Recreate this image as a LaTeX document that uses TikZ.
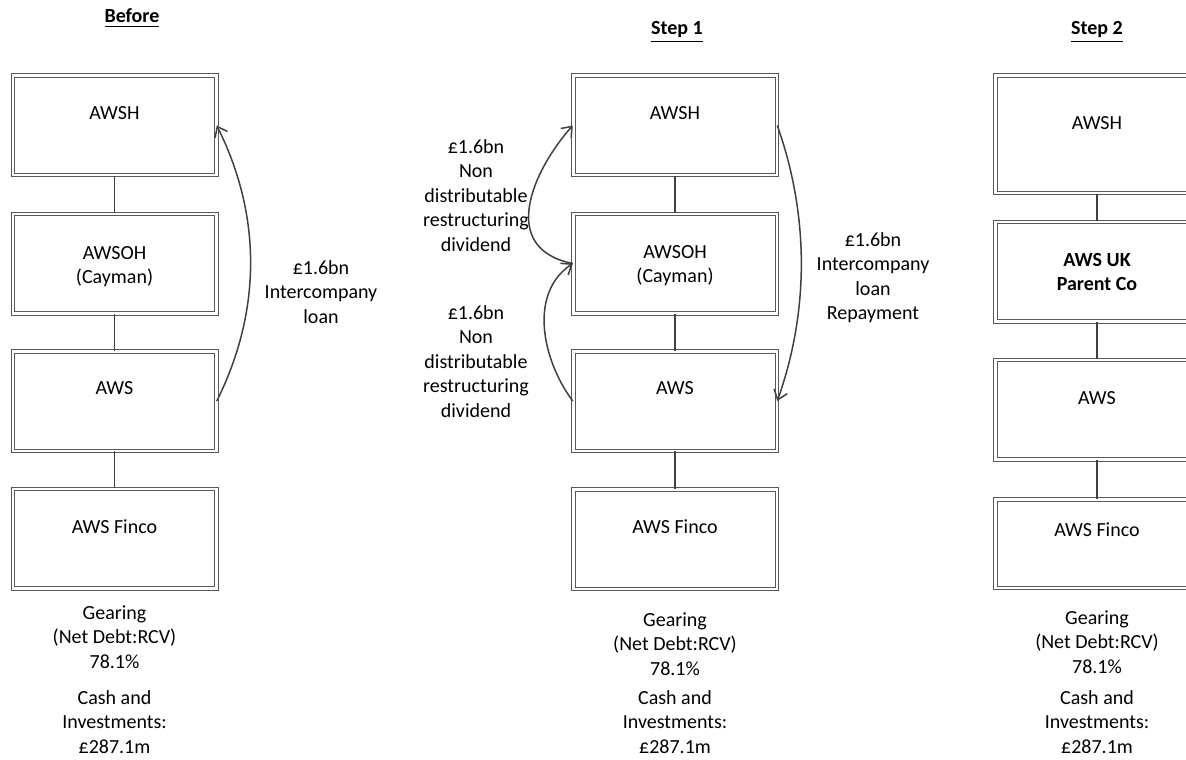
\documentclass[tikz,border=0pt]{standalone}
\usepackage{fontspec}
\setmainfont{Carlito}
\usetikzlibrary{arrows.meta, positioning}
\definecolor{colBox}{RGB}{89, 89, 89}
\definecolor{colLine}{RGB}{64, 64, 64}

\begin{document}
\begin{tikzpicture}[x=0.5pt, y=-0.5pt,
    every node/.style={font=\fontsize{10}{12.2}\selectfont, inner sep=0pt},
    firm/.style={draw=colBox, line width=0.5pt, double=white, double distance=1.25pt,
        minimum width=101.75pt, minimum height=49.75pt},
    firmtext/.style={anchor=base, align=center},
    link/.style={draw=colLine, line width=0.6pt},
    flow/.style={draw=colLine, line width=0.75pt, -{Straight Barb[length=4.5pt,width=7pt]}}]
    \useasboundingbox (0,0) rectangle (1186,759);
    \clip (0,0) rectangle (1186,759);

    % Before
    \node[firmtext] (hBefore) at (132,23) {\underline{\textbf{Before}}};
    \node[firm] (b1) at (114.5,125.5) {};
    \node[firm] (b2) at (114.5,263.5) {};
    \node[firm] (b3) at (114.5,401) {};
    \node[firm] (b4) at (114.5,538.5) {};
    \node[firmtext] (b1t) at (114.5,119.5) {AWSH};
    \node[firmtext] (b2t) at (114.5,283.9) {AWSOH\\(Cayman)};
    \node[firmtext] (b3t) at (114.5,394.5) {AWS};
    \node[firmtext] (b4t) at (114.5,533.5) {AWS Finco};
    \draw[link] (b1.south) -- (b2.north);
    \draw[link] (b2.south) -- (b3.north);
    \draw[link] (b3.south) -- (b4.north);
    \node[firmtext] (bGear) at (114.5,668.3) {Gearing\\(Net Debt:RCV)\\78.1\%};
    \node[firmtext] (bCash) at (114.5,753.3) {Cash and\\Investments:\\£287.1m};
    % Lening
    \draw[flow] (b3.east) .. controls +(45,-90) and +(45,90) .. (b1.east);
    \node[firmtext] (bLoan) at (321,323.3) {£1.6bn\\Intercompany\\loan};

    % Step 1
    \node[firmtext] (hStep1) at (677,35) {\underline{\textbf{Step 1}}};
    \node[firm] (s1) at (675,125.5) {};
    \node[firm] (s2) at (675,263.5) {};
    \node[firm] (s3) at (675,401) {};
    \node[firm] (s4) at (675,539) {};
    \node[firmtext] (s1t) at (675,119.5) {AWSH};
    \node[firmtext] (s2t) at (675,282.9) {AWSOH\\(Cayman)};
    \node[firmtext] (s3t) at (675,394.5) {AWS};
    \node[firmtext] (s4t) at (675,533.5) {AWS Finco};
    \draw[link] (s1.south) -- (s2.north);
    \draw[link] (s2.south) -- (s3.north);
    \draw[link] (s3.south) -- (s4.north);
    \node[firmtext] (sGear) at (675,675.3) {Gearing\\(Net Debt:RCV)\\78.1\%};
    \node[firmtext] (sCash) at (675,753.3) {Cash and\\Investments:\\£287.1m};
    % Dividenden en aflossing
    \draw[flow] (s2.west) .. controls +(-75,-15) and +(-40,45) .. (s1.west);
    \draw[flow] (s3.west) .. controls +(-30,-40) and +(-45,30) .. (s2.west);
    \draw[flow] (s1.east) .. controls +(32,90) and +(32,-90) .. (s3.east);
    \node[firmtext] (sDivA) at (476,251.1) {£1.6bn\\Non\\distributable\\restructuring\\dividend};
    \node[firmtext] (sDivB) at (476,417.1) {£1.6bn\\Non\\distributable\\restructuring\\dividend};
    \node[firmtext] (sRepay) at (873,319.7) {£1.6bn\\Intercompany\\loan\\Repayment};

    % Step 2
    \node[firmtext] (hStep2) at (1097,35) {\underline{\textbf{Step 2}}};
    \node[firm, minimum height=58.75pt] (t1) at (1097,134.5) {};
    \node[firm] (t2) at (1097,271.5) {};
    \node[firm] (t3) at (1097,409.5) {};
    \node[firm, minimum height=44.25pt] (t4) at (1097,543.5) {};
    \node[firmtext] (t1t) at (1097,129.5) {AWSH};
    \node[firmtext] (t2t) at (1097,290.9) {\textbf{AWS UK}\\\textbf{Parent Co}};
    \node[firmtext] (t3t) at (1097,404.5) {AWS};
    \node[firmtext] (t4t) at (1097,536.5) {AWS Finco};
    \draw[link] (t1.south) -- (t2.north);
    \draw[link] (t2.south) -- (t3.north);
    \draw[link] (t3.south) -- (t4.north);
    \node[firmtext] (tGear) at (1097,673.3) {Gearing\\(Net Debt:RCV)\\78.1\%};
    \node[firmtext] (tCash) at (1097,753.3) {Cash and\\Investments:\\£287.1m};
\end{tikzpicture}
\end{document}
